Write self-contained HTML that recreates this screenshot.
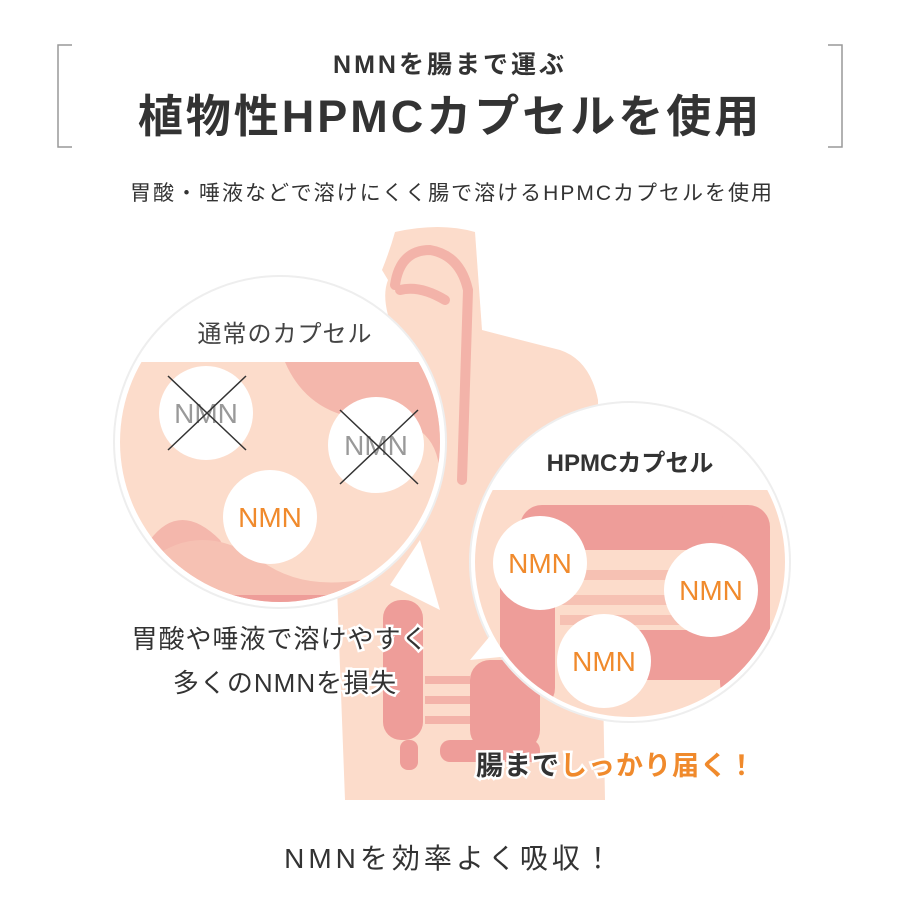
<!DOCTYPE html>
<html><head><meta charset="utf-8"><style>
body{margin:0;background:#fff}
svg{display:block}
text{font-family:"Liberation Sans","Noto Sans CJK JP",sans-serif}
</style></head><body>
<svg width="900" height="900" viewBox="0 0 900 900">
<defs>
<clipPath id="c1"><circle cx="280" cy="442" r="160"/></clipPath>
<clipPath id="c2"><circle cx="630" cy="562" r="155"/></clipPath>
</defs>
<path d="M72 45 H58 V147 H72" fill="none" stroke="#999" stroke-width="1.5"/>
<path d="M828 45 H842 V147 H828" fill="none" stroke="#999" stroke-width="1.5"/>
<text x="450" y="73" font-size="25" fill="#333" text-anchor="middle" font-weight="bold" letter-spacing="3">NMNを腸まで運ぶ</text>
<text x="450" y="132" font-size="45" fill="#333" text-anchor="middle" font-weight="bold" letter-spacing="3">植物性HPMCカプセルを使用</text>
<text x="452" y="200" font-size="21" fill="#333" text-anchor="middle" letter-spacing="2">胃酸・唾液などで溶けにくく腸で溶けるHPMCカプセルを使用</text>
<g fill="#fcdccb">
<path d="M395 232 Q440 222 475 232 L482 330 Q520 340 560 350 Q590 360 598 400 L605 800 L345 800 L330 400 Q335 360 360 350 L395 335 Q380 300 388 280 L382 270 Q390 250 395 232 Z"/>
</g>
<g fill="none" stroke="#f3b3a9" stroke-width="10" stroke-linecap="round">
<path d="M395 285 Q400 250 430 250 Q460 255 468 290 L462 480"/>
<path d="M400 290 Q420 285 445 300"/>
</g>
<g fill="#ee9d99">
<rect x="383" y="600" width="40" height="140" rx="18"/>
<rect x="400" y="740" width="18" height="30" rx="8"/>
<rect x="470" y="660" width="70" height="90" rx="20"/>
<rect x="440" y="740" width="100" height="22" rx="10"/>
</g>
<g fill="none" stroke="#f3b3a9" stroke-width="8">
<path d="M425 680 H470 M425 700 H470 M425 720 H470"/>
</g>
<circle cx="280" cy="442" r="166" fill="#fff" stroke="#eee" stroke-width="2"/>
<path d="M420 540 L440 610 L390 585 Z" fill="#fff"/>
<g clip-path="url(#c1)">
<rect x="100" y="362" width="360" height="260" fill="#fcdccb"/>
<path d="M285 362 Q310 420 380 420 Q440 420 440 480 L440 560 L330 590 Q250 600 220 540 Q180 500 150 540 L110 560 L110 600 L460 600 L460 362 Z" fill="#f3b3a9" opacity="0.9"/>
<path d="M150 560 Q200 520 260 560 Q300 590 360 580 L460 570 L460 600 L110 600 Z" fill="#f6c1b3"/>
<rect x="150" y="595" width="250" height="20" rx="10" fill="#ee9d99"/>
</g>
<text x="285" y="342" font-size="24" fill="#444" text-anchor="middle" letter-spacing="1">通常のカプセル</text>
<circle cx="206" cy="413" r="47" fill="#fff"/>
<circle cx="376" cy="445" r="48" fill="#fff"/>
<circle cx="270" cy="517" r="47" fill="#fff"/>
<text x="206" y="423" font-size="28" fill="#999" text-anchor="middle">NMN</text>
<text x="376" y="455" font-size="28" fill="#999" text-anchor="middle">NMN</text>
<text x="270" y="527" font-size="28" fill="#f08a2c" text-anchor="middle">NMN</text>
<g stroke="#333" stroke-width="1.5">
<path d="M168 376 L246 450 M246 376 L168 450 M340 410 L418 484 M418 410 L340 484"/>
</g>
<circle cx="630" cy="562" r="160" fill="#fff" stroke="#eee" stroke-width="2"/>
<path d="M495 630 L470 660 L520 655 Z" fill="#fff"/>
<g clip-path="url(#c2)">
<rect x="470" y="490" width="320" height="240" fill="#fcdccb"/>
<rect x="520" y="505" width="245" height="45" rx="22" fill="#ee9d99"/>
<rect x="720" y="505" width="50" height="200" rx="22" fill="#ee9d99"/>
<rect x="500" y="560" width="55" height="150" rx="22" fill="#ee9d99"/>
<rect x="600" y="630" width="170" height="50" rx="22" fill="#ee9d99"/>
<path d="M560 575 H720 M560 600 H720 M560 620 H700" stroke="#f6c1b3" stroke-width="10"/>
</g>
<text x="630" y="471" font-size="24" fill="#333" text-anchor="middle" font-weight="bold">HPMCカプセル</text>
<circle cx="540" cy="563" r="47" fill="#fff"/>
<circle cx="711" cy="590" r="47" fill="#fff"/>
<circle cx="604" cy="661" r="47" fill="#fff"/>
<text x="540" y="573" font-size="28" fill="#f08a2c" text-anchor="middle">NMN</text>
<text x="711" y="600" font-size="28" fill="#f08a2c" text-anchor="middle">NMN</text>
<text x="604" y="671" font-size="28" fill="#f08a2c" text-anchor="middle">NMN</text>
<text x="280" y="648" font-size="26" fill="#333" text-anchor="middle" stroke="#fff" stroke-width="5" paint-order="stroke" letter-spacing="1">胃酸や唾液で溶けやすく</text>
<text x="285" y="692" font-size="26" fill="#333" text-anchor="middle" stroke="#fff" stroke-width="5" paint-order="stroke" letter-spacing="1">多くのNMNを損失</text>
<text x="476" y="775" font-size="27" fill="#333" stroke="#fff" stroke-width="5" paint-order="stroke" font-weight="bold" letter-spacing="1">腸まで<tspan fill="#f08a2c">しっかり届く！</tspan></text>
<text x="450" y="868" font-size="28" fill="#333" text-anchor="middle" letter-spacing="4">NMNを効率よく吸収！</text>
</svg>
</body></html>
